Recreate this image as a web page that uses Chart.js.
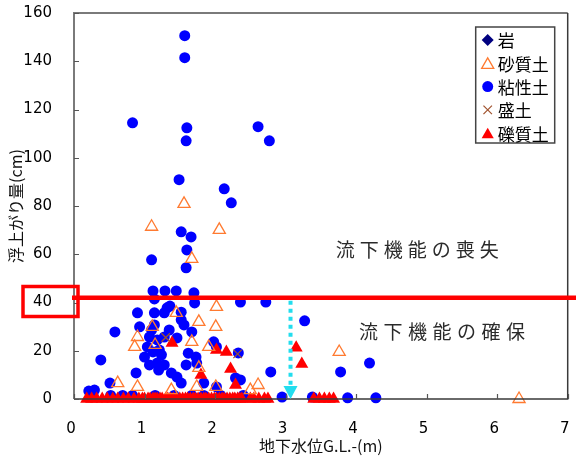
<!DOCTYPE html>
<html>
<head>
<meta charset="utf-8">
<script src="https://cdn.jsdelivr.net/npm/chart.js@4/dist/chart.umd.min.js"></script>
<style>
  html, body { margin: 0; padding: 0; background: #fff; }
  #wrap { width: 576px; height: 459px; }
</style>
</head>
<body>
<div id="wrap"><canvas id="c" width="576" height="459"></canvas></div>
<script>
// 地下水位 (m) と 浮上がり量 (cm) — 土質別
const rockX = [];
const rockY = [];

const sandX = [1.56, 1.10, 2.06, 1.67, 0.62, 0.90, 0.90, 0.86, 1.11, 1.15, 1.45, 2.02, 1.77,
               2.01, 1.67, 1.91, 1.77, 2.01, 1.74, 2.50, 1.38, 2.61, 3.76, 6.31];
const sandY = [80.9, 71.4, 70.1, 58.1, 6.6, 5.0, 25.7, 21.6, 29.9, 22.4, 35.7, 38.2, 32.0,
               29.9, 23.7, 21.6, 12.9, 5.0, 5.0, 3.7, 3.7, 5.8, 19.5, 0];

const clayX = [1.57, 1.57, 0.83, 1.60, 1.59, 2.61, 2.77, 1.49, 2.13, 2.23, 1.52, 1.66, 1.60, 1.10, 1.59,
               1.12, 1.29, 1.45, 1.70, 1.14, 1.71, 2.36, 2.72, 3.27, 2.79, 3.78, 4.19,
               0.90, 1.14, 1.28, 0.58, 0.93, 1.14, 1.07, 1.04, 1.18, 1.00, 1.18, 0.38, 0.88, 0.51, 0.29, 0.21,
               1.32, 1.52, 1.56, 1.28, 1.46, 1.67, 1.98, 2.02, 1.73, 1.74, 1.59, 1.38, 1.46, 1.52, 1.84, 2.02,
               2.33, 2.29, 2.36, 1.21, 1.10, 1.35, 1.24, 1.07, 1.28, 1.36, 1.52, 1.12, 1.20, 1.62,
               0.27, 0.52, 0.69, 0.83, 1.15, 1.42, 1.67, 1.84, 2.08, 2.40, 2.95, 3.38, 3.88, 4.28];
const clayY = [150.6, 141.5, 114.5, 112.4, 107.0, 112.9, 107.0, 90.9, 87.1, 81.3, 69.3, 67.2, 61.8, 57.7, 54.4,
               44.8, 44.8, 44.8, 44.0, 41.5, 39.8, 40.2, 40.2, 32.4, 11.2, 11.2, 14.9,
               35.7, 35.7, 35.7, 27.8, 29.9, 30.7, 25.7, 21.6, 24.5, 17.4, 14.9, 16.2, 10.8, 6.6, 3.7, 3.3,
               37.8, 32.8, 30.7, 25.7, 25.3, 27.8, 23.7, 21.6, 17.4, 14.9, 14.1, 10.8, 9.1, 6.6, 6.6, 5.0,
               19.1, 8.7, 7.9, 20.3, 28.6, 28.6, 18.3, 14.1, 14.1, 38.5, 36.0, 19.5, 12.0, 19.0,
               1.5, 1.5, 1.5, 1.5, 1.5, 1.5, 1.5, 1.5, 1.5, 1.5, 0.8, 0.8, 0.5, 0.5];

const fillX = [2.32, 1.30];
const fillY = [18.7, 25.5];

const gravelX = [1.39, 2.02, 2.16, 1.80, 2.22, 2.29, 3.15, 3.23,
                 0.18, 0.25, 0.32, 0.40, 0.47, 0.55, 0.62, 0.70, 0.77, 0.85, 0.92, 1.00, 1.05, 1.12,
                 1.18, 1.25, 1.30, 1.37, 1.45, 1.50, 1.58, 1.65, 1.72, 1.80, 1.87, 1.95, 2.02, 2.10,
                 2.17, 2.25, 2.32, 2.38, 2.55, 2.62, 2.70, 2.75, 3.40, 3.48, 3.55, 3.62, 3.68,
                 0.97, 1.08, 1.15, 1.22, 1.33, 1.41, 1.54, 1.61, 1.69, 1.76, 1.84, 1.91, 1.99,
                 2.06, 2.13, 2.21, 2.28, 2.35, 2.50];
const gravelY = [23.2, 20.3, 19.5, 10.0, 12.4, 5.8, 21.2, 14.5,
                 0, 0, 0, 0, 0, 0, 0, 0, 0, 0, 0, 0, 0, 0,
                 0, 0, 0, 0, 0, 0, 0, 0, 0, 0, 0, 0, 0, 0,
                 0, 0, 0, 0, 0, 0, 0, 0, 0, 0, 0, 0, 0,
                 0, 0, 0, 0, 0, 0, 0, 0, 0, 0, 0, 0, 0,
                 0, 0, 0, 0, 0, 0];

// x / y 軸目盛
const xTicks = [0, 1, 2, 3, 4, 5, 6, 7];
const yTicks = [0, 20, 40, 60, 80, 100, 120, 140, 160];

// 判定ライン (cm) と 矢印の位置 (m)
const limitValue = 42;
const arrowX = 3.07;

const zip = (xs, ys) => xs.map((x, i) => ({ x, y: ys[i] }));

const NUM_FONT = '"DejaVu Sans", Verdana, sans-serif';
const JP_FONT = '"Noto Sans CJK JP", "Noto Sans", sans-serif';

const series = [
  { label: '岩', style: 'rectRot', r: 6, fill: '#000080', stroke: '#000080', bw: 0 },
  { label: '砂質土', style: 'triangle', r: 7, fill: 'rgba(0,0,0,0)', stroke: '#FF7A30', bw: 1.3 },
  { label: '粘性土', style: 'circle', r: 5.5, fill: '#0000FF', stroke: '#0000FF', bw: 0 },
  { label: '盛土', style: 'crossRot', r: 6, fill: '#A0522D', stroke: '#A0522D', bw: 1.2 },
  { label: '礫質土', style: 'triangle', r: 7.5, fill: '#FF0000', stroke: '#FF0000', bw: 0 }
];
const seriesData = [zip(rockX, rockY), zip(sandX, sandY), zip(clayX, clayY), zip(fillX, fillY), zip(gravelX, gravelY)];
const drawOrder = [0, 1, 4, 2, 3];

const overlay = {
  id: 'overlay',
  afterDatasetsDraw(chart) {
    const { ctx, chartArea: a, scales: { x, y } } = chart;
    ctx.save();

    // 枠線
    ctx.lineCap = 'butt';
    ctx.strokeStyle = '#7a7a7a';
    ctx.lineWidth = 2;
    ctx.beginPath();
    ctx.moveTo(a.left, a.bottom); ctx.lineTo(a.left, a.top); ctx.lineTo(a.right, a.top);
    ctx.stroke();
    ctx.strokeStyle = '#3a3a3a';
    ctx.lineWidth = 1.5;
    ctx.beginPath();
    ctx.moveTo(a.right, a.top); ctx.lineTo(a.right, a.bottom); ctx.lineTo(a.left, a.bottom);
    ctx.stroke();

    // 目盛線 (内向き)
    ctx.strokeStyle = '#555';
    ctx.lineWidth = 1.2;
    ctx.beginPath();
    yTicks.forEach(v => {
      const py = Math.round(y.getPixelForValue(v)) + 0.5;
      ctx.moveTo(a.left, py); ctx.lineTo(a.left + 5, py);
    });
    xTicks.forEach(v => {
      const px = Math.round(x.getPixelForValue(v)) + 0.5;
      ctx.moveTo(px, a.bottom); ctx.lineTo(px, a.bottom - 5);
    });
    ctx.stroke();

    // 判定ライン
    const ly = y.getPixelForValue(limitValue);
    ctx.strokeStyle = '#FF0000';
    ctx.lineWidth = 4.5;
    ctx.beginPath();
    ctx.moveTo(a.left - 2, ly); ctx.lineTo(chart.width, ly);
    ctx.stroke();

    // 「40」を囲む枠
    const y40 = y.getPixelForValue(40);
    ctx.lineWidth = 3.5;
    ctx.strokeRect(23, y40 - 16, a.left + 4 - 23, 30);

    // 水色の点線矢印
    const ax = x.getPixelForValue(arrowX);
    const ay0 = ly + 3;
    const ay1 = y.getPixelForValue(0);
    ctx.strokeStyle = '#22DDEE';
    ctx.fillStyle = '#22DDEE';
    ctx.lineWidth = 4;
    ctx.setLineDash([4, 4]);
    ctx.beginPath();
    ctx.moveTo(ax, ay0); ctx.lineTo(ax, ay1 - 12);
    ctx.stroke();
    ctx.setLineDash([]);
    ctx.beginPath();
    ctx.moveTo(ax - 7, ay1 - 13); ctx.lineTo(ax + 7, ay1 - 13); ctx.lineTo(ax, ay1);
    ctx.closePath();
    ctx.fill();

    // 領域の説明
    ctx.fillStyle = '#2a2a2a';
    ctx.font = '19px ' + JP_FONT;
    ctx.textBaseline = 'middle';
    ctx.textAlign = 'left';
    const spaced = (text, px, py, step) => {
      [...text].forEach((ch, i) => ctx.fillText(ch, px + i * step, py));
    };
    spaced('流下機能の喪失', x.getPixelForValue(3.71), y.getPixelForValue(61.8), 24);
    spaced('流下機能の確保', x.getPixelForValue(4.04), y.getPixelForValue(27.8), 24.5);

    // 凡例
    const bx = a.right - 92, by = a.top + 14, bw = 79, bh = 116;
    ctx.fillStyle = '#fff';
    ctx.fillRect(bx, by, bw, bh);
    ctx.strokeStyle = '#444';
    ctx.lineWidth = 1.5;
    ctx.strokeRect(bx, by, bw, bh);
    ctx.font = '17px ' + JP_FONT;
    series.forEach((s, i) => {
      const ry = by + 13 + i * 23.3;
      ctx.save();
      ctx.fillStyle = s.fill;
      ctx.strokeStyle = s.stroke;
      ctx.lineWidth = s.bw;
      Chart.helpers.drawPoint(ctx, { pointStyle: s.style, radius: Math.min(s.r, 7), rotation: 0, borderWidth: s.bw }, bx + 12, ry + (s.style === 'triangle' ? 1.5 : 0));
      ctx.restore();
      ctx.fillStyle = '#000';
      ctx.fillText(s.label, bx + 22, ry + 1);
    });

    // 軸タイトル
    ctx.fillStyle = '#111';
    ctx.font = '16px ' + JP_FONT;
    ctx.textAlign = 'center';
    ctx.fillText('地下水位G.L.-(m)', (a.left + a.right) / 2, 446);
    ctx.save();
    ctx.translate(16, (a.top + a.bottom) / 2);
    ctx.rotate(-Math.PI / 2);
    ctx.fillText('浮上がり量(cm)', 0, 0);
    ctx.restore();

    ctx.restore();
  }
};

new Chart(document.getElementById('c'), {
  type: 'scatter',
  data: {
    datasets: series.map((s, i) => ({
      label: s.label,
      data: seriesData[i],
      pointStyle: s.style,
      pointRadius: s.r,
      pointHoverRadius: s.r,
      pointBackgroundColor: s.fill,
      pointBorderColor: s.stroke,
      pointBorderWidth: s.bw,
      showLine: false,
      clip: false,
      order: drawOrder[i]
    }))
  },
  options: {
    responsive: false,
    animation: false,
    events: [],
    layout: { padding: { top: 13, right: 4, left: 0, bottom: 0 } },
    plugins: { legend: { display: false }, tooltip: { enabled: false } },
    scales: {
      x: {
        type: 'linear', min: 0, max: 7,
        afterBuildTicks: s => { s.ticks = xTicks.map(v => ({ value: v })); },
        ticks: { padding: 13, labelOffset: -3, color: '#000', font: { family: NUM_FONT, size: 15 } },
        grid: { display: false }, border: { display: false },
        afterFit: s => { s.height = 60; s.paddingLeft = 0; s.paddingRight = 0; }
      },
      y: {
        type: 'linear', min: 0, max: 160,
        afterBuildTicks: s => { s.ticks = yTicks.map(v => ({ value: v })); },
        ticks: { padding: 14, color: '#000', font: { family: NUM_FONT, size: 15 } },
        grid: { display: false }, border: { display: false },
        afterFit: s => { s.width = 74; s.paddingTop = 0; s.paddingBottom = 0; }
      }
    }
  },
  plugins: [overlay]
});
</script>
</body>
</html>
